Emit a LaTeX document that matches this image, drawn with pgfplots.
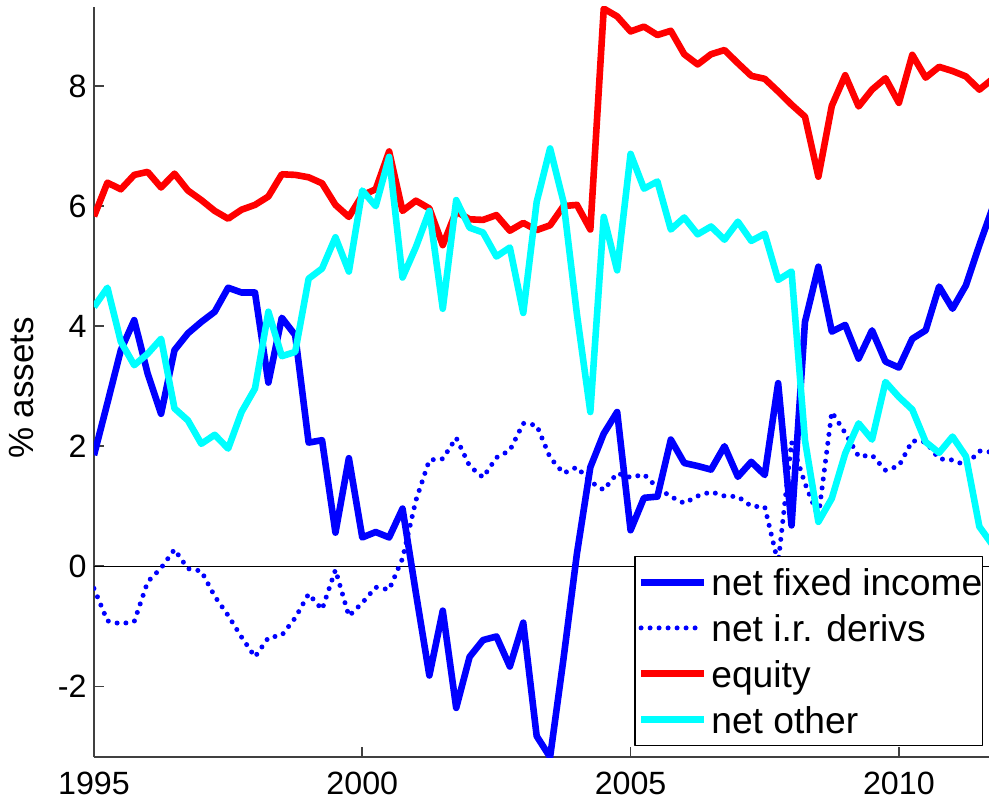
\documentclass[border=0pt]{standalone}
\usepackage{fontspec}
\setmainfont{Liberation Sans}
\usepackage{pgfplots}
\pgfplotsset{compat=1.18}
\usepackage{pgfplotstable}

\definecolor{mblue}{RGB}{0,0,255}
\definecolor{mred}{RGB}{255,0,0}
\definecolor{mcyan}{RGB}{0,255,255}

\pgfplotstableread{
x fi ir eq ot
1995.00 1.85 -0.37 5.83 4.32
1995.25 2.72 -0.91 6.39 4.64
1995.50 3.60 -0.96 6.28 3.74
1995.75 4.10 -0.92 6.52 3.35
1996.00 3.21 -0.26 6.57 3.54
1996.25 2.54 -0.03 6.31 3.79
1996.50 3.60 0.28 6.54 2.63
1996.75 3.88 -0.04 6.26 2.43
1997.00 4.07 -0.08 6.10 2.04
1997.25 4.24 -0.50 5.92 2.19
1997.50 4.64 -0.82 5.79 1.96
1997.75 4.56 -1.18 5.94 2.57
1998.00 4.56 -1.51 6.02 2.96
1998.25 3.06 -1.19 6.16 4.24
1998.50 4.14 -1.15 6.53 3.50
1998.75 3.85 -0.86 6.52 3.57
1999.00 2.06 -0.46 6.48 4.79
1999.25 2.10 -0.72 6.38 4.96
1999.50 0.56 -0.06 6.02 5.48
1999.75 1.80 -0.83 5.82 4.91
2000.00 0.48 -0.61 6.18 6.26
2000.25 0.57 -0.35 6.28 6.00
2000.50 0.48 -0.39 6.91 6.82
2000.75 0.96 0.13 5.92 4.81
2001.00 -0.45 1.10 6.09 5.32
2001.25 -1.82 1.77 5.96 5.92
2001.50 -0.74 1.79 5.35 4.29
2001.75 -2.36 2.14 5.91 6.10
2002.00 -1.51 1.67 5.78 5.64
2002.25 -1.23 1.48 5.77 5.56
2002.50 -1.17 1.81 5.85 5.16
2002.75 -1.67 1.93 5.59 5.31
2003.00 -0.94 2.38 5.72 4.22
2003.25 -2.83 2.35 5.60 6.07
2003.50 -3.18 1.81 5.68 6.96
2003.75 -1.54 1.55 6.00 6.07
2004.00 0.21 1.65 6.02 4.20
2004.25 1.65 1.41 5.61 2.57
2004.50 2.21 1.27 9.29 5.82
2004.75 2.57 1.55 9.16 4.93
2005.00 0.60 1.48 8.91 6.87
2005.25 1.14 1.53 8.99 6.29
2005.50 1.16 1.31 8.85 6.41
2005.75 2.11 1.16 8.92 5.61
2006.00 1.72 1.05 8.53 5.81
2006.25 1.67 1.17 8.36 5.53
2006.50 1.61 1.24 8.53 5.66
2006.75 2.00 1.17 8.60 5.44
2007.00 1.49 1.16 8.38 5.74
2007.25 1.74 1.00 8.17 5.42
2007.50 1.52 0.99 8.12 5.54
2007.75 3.05 0.05 7.91 4.77
2008.00 0.68 2.07 7.69 4.91
2008.25 4.07 1.38 7.49 2.10
2008.50 4.99 0.82 6.49 0.74
2008.75 3.91 2.57 7.67 1.13
2009.00 4.02 2.22 8.18 1.88
2009.25 3.46 1.83 7.66 2.38
2009.50 3.93 1.85 7.94 2.11
2009.75 3.41 1.60 8.13 3.07
2010.00 3.31 1.67 7.72 2.82
2010.25 3.79 2.09 8.52 2.61
2010.50 3.93 2.07 8.14 2.07
2010.75 4.66 1.79 8.32 1.89
2011.00 4.29 1.77 8.25 2.16
2011.25 4.68 1.68 8.16 1.83
2011.50 5.35 1.92 7.94 0.66
2011.75 5.98 1.90 8.12 0.35
}\data

\begin{document}
\begin{tikzpicture}
\begin{axis}[
  scale only axis, width=447.5pt, height=375pt,
  xmin=1995, xmax=2011.68, ymin=-3.178, ymax=9.317,
  axis x line=bottom, axis y line=left,
  axis line style={-, black!75, line width=0.8pt},
  tick align=inside, major tick length=5pt,
  every tick/.style={black!75, line width=0.8pt},
  xtick={1995,2000,2005,2010}, ytick={-2,0,2,4,6,8},
  /pgf/number format/1000 sep={},
  /pgf/number format/assume math mode=true,
  ticklabel style={font=\fontsize{16.1}{19}\selectfont},
  yticklabel style={inner xsep=0pt, xshift=-3.5pt},
  xticklabel style={inner ysep=0pt, yshift=-7.5pt},
  ylabel={\% assets},
  every axis y label/.style={at={(rel axis cs:0,0.492)}, anchor=center, xshift=-36pt, rotate=90, font=\fontsize{17.5}{20}\selectfont},
  legend style={at={(rel axis cs:1,0)}, anchor=south east, xshift=-3pt, yshift=5.5pt,
    draw=black, line width=0.75pt, fill=white, inner xsep=0pt, inner ysep=1.55pt,
    font=\fontsize{18.6}{22}\selectfont,
    nodes={inner sep=0pt, text height=18.3pt, text depth=4.55pt},
    column sep=2pt, row sep=0pt},
  legend cell align=left,
  legend image code/.code={\path (0pt,0pt); \draw (1.5pt,0pt) -- (33pt,0pt);},
  line join=round,
]
\addplot[black, line width=0.6pt, forget plot] coordinates {(1995,0) (2012,0)};
\addplot[mblue, line width=3.3pt] table[x=x, y=fi] {\data};
\addlegendentry{net fixed income}
\addplot[mblue, line width=2.5pt, line cap=round, dash pattern=on 0pt off 4.5pt] table[x=x, y=ir] {\data};
\addlegendentry{net i.r. derivs}
\addplot[mred, line width=3.3pt] table[x=x, y=eq] {\data};
\addlegendentry{equity}
\addplot[mcyan, line width=3.3pt] table[x=x, y=ot] {\data};
\addlegendentry{net other}
\end{axis}
\pgfresetboundingbox
\useasboundingbox ([shift={(-47pt,-21.5pt)}]current axis.south west) rectangle ([shift={(0pt,3.5pt)}]current axis.north east);
\end{tikzpicture}
\end{document}
